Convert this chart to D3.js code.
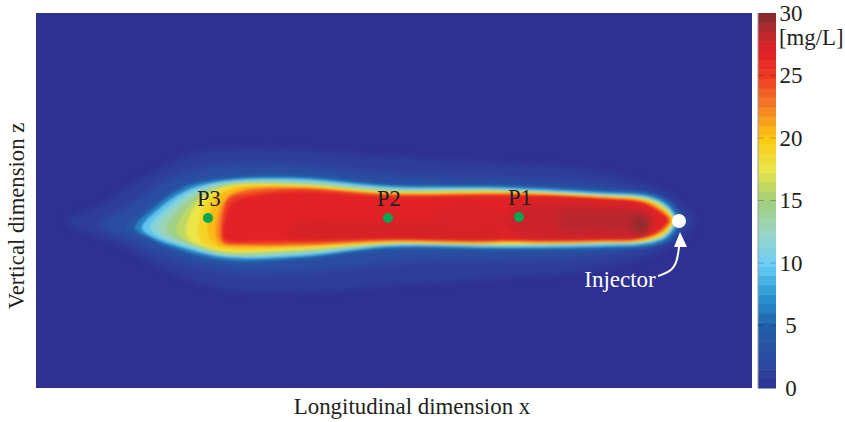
<!DOCTYPE html>
<html>
<head>
<meta charset="utf-8">
<script src="https://d3js.org/d3.v7.min.js"></script>
<style>
  html, body { margin: 0; padding: 0; background: #fff; }
  text { font-family: "Liberation Serif", "Times New Roman", serif; fill: #231f20; }
</style>
</head>
<body>
<svg id="viz" width="845" height="422"></svg>
<script>
// colour bar
const colorValues = [0, 2, 5, 7.5, 10, 12.5, 15, 17.5, 20, 22.5, 25, 27, 28.5, 30];
const colorStops = ["#2e3192", "#2b4a9f", "#1f5fa8", "#2a9ad4", "#6dcff6", "#9ad5c4", "#a0cf78", "#eae64a", "#fdc70f", "#f47f26", "#ee3a24", "#e01f26", "#b8292d", "#7a2a30"];
const colorTicks = [0, 5, 10, 15, 20, 25, 30];
const barBands = d3.range(0, 30, 0.75);
const unitLabel = "[mg/L]";

// concentration contours: level and outline [x, z]
const haloLevels = [1.0, 2.6];
const haloOuter = [[31,166],[64,183],[104,208],[154,233],[194,239],[264,238],[364,230],[464,225],[564,216],[634,193],[659,168],[636,143],[564,120],[464,110],[364,103],[264,96],[194,98],[134,116],[84,143]];
const haloInner = [[64,163],[94,183],[134,210],[184,223],[264,223],[364,213],[464,210],[564,203],[624,188],[649,168],[629,148],[564,133],[464,128],[364,126],[264,116],[194,116],[134,130],[94,148]];
const haloLines = [haloOuter, haloInner];

const contourLevels = [3.5, 6.5, 9.5, 11.5, 13, 14.5, 16, 17.5, 19, 20.5, 22, 23.5, 25, 26.8];
const contour35 = [[89,160],[114,183],[144,203],[189,213],[264,215],[354,205],[464,204],[564,199],[617,195],[636,186],[647,168],[636,148],[617,141],[564,138],[464,137],[354,137],[264,127],[189,124],[139,136],[109,150]];
const contour65 = [[99,160],[119,181],[149,201],[189,209],[264,211],[354,203],[464,202],[564,197],[615,193],[633,184],[643,168],[633,150],[615,143],[564,140],[464,139],[354,140],[264,130],[189,128],[139,140],[114,150]];
const contour95 = [[106,160],[124,180],[152,198],[189,207],[264,209],[354,201],[464,200],[564,195],[613,191],[631,182],[640,168],[631,152],[613,145],[564,142],[464,141],[354,142],[264,132],[189,131],[142,142],[119,150]];
const contour115 = [[114,160],[131,180],[156,197],[190,206],[264,207.5],[354,200],[464,199],[564,194],[613,190.5],[631,181.5],[639.5,168],[631,152.5],[613,145.5],[564,143],[464,141.5],[354,142.5],[264,133.5],[189,132],[147,142.5],[126,150]];
const contour13 = [[122,160],[138,180],[160,196],[192,205],[264,206],[354,199],[464,198.5],[564,193.5],[612,190],[630,181],[639,168],[630,153],[612,146],[564,144],[464,142],[354,143],[264,135],[189,133],[152,143],[134,150]];
const contour145 = [[130,159],[144,179],[164,195],[192,204],[264,205],[354,198],[464,198],[564,193],[611,189.5],[629,180.5],[638.5,168],[629,153.5],[611,146.5],[564,144.5],[464,143],[354,143.5],[264,136],[189,134],[158,142.5],[140,149]];
const contour16 = [[140,158],[150,178],[168,194],[192,203],[264,204],[354,197],[464,197],[564,192.5],[611,189],[629,180],[638,168],[629,154],[611,147],[564,145],[464,143.5],[354,144],[264,137],[189,135],[162,142],[148,148]];
const contour175 = [[150,156],[156,177],[170,193],[193,202],[264,203],[354,196],[464,196.5],[564,192],[610,188.5],[628,179.5],[637.5,168],[628,154.5],[610,147.5],[564,145.5],[464,144],[354,145],[264,138.5],[189,136.5],[166,142.5],[154,148]];
const contour19 = [[162,154],[165,176],[175,192],[194,201],[264,202],[354,195.5],[464,196],[564,192],[610,188],[628,179],[637,168],[628,155],[610,148],[564,146],[464,145],[354,145.5],[264,140],[189,138],[170,143],[164,148]];
const contour205 = [[172,153],[174,175],[182,191],[199,200],[264,201.5],[354,195],[464,195.5],[564,191.5],[609,187.5],[627,178.5],[636,168],[627,155.5],[609,148.5],[564,146],[464,145.5],[354,146],[264,141],[196,140],[180,143.5]];
const contour22 = [[180,152],[182,173],[190,190],[204,198],[264,201],[354,194.5],[464,195],[564,191],[608,187],[626,178],[635,168],[626,156],[608,149],[564,147],[464,146],[354,147],[264,142],[204,142],[186,144]];
const contour235 = [[184,151],[186,176],[192,190],[209,197],[264,200],[354,194],[464,194.5],[564,190.5],[607,186.5],[625,177.5],[634,168],[625,156.5],[607,149.5],[564,147],[464,146.5],[354,147.5],[264,143.5],[209,143],[188,144.5]];
const contour25 = [[186,150],[188,178],[194,190],[214,195],[264,199],[354,193],[464,194],[564,190],[606,186],[624,177],[633,168],[624,157],[606,150],[564,148],[464,147],[354,148],[264,145],[214,144],[190,145]];
const contour268 = [[188,150],[192,178],[199,187],[218,192],[264,196],[354,191],[464,192],[564,189],[604,185],[622,176],[631,168],[622,158],[604,151],[564,149],[464,149],[354,150],[264,148],[218,147],[195,147]];
const contourLines = [contour35, contour65, contour95, contour115, contour13, contour145, contour16, contour175, contour19, contour205, contour22, contour235, contour25, contour268];

// darker patches inside the core
const patchLevels = [27.4, 27.3, 27.7, 28.4, 29.3];
const patchBand = [[254,163],[354,165],[464,162],[464,152],[354,151],[254,153]];
const patchMid = [[400,176],[460,178],[470,165],[440,158],[400,162]];
const patchRight = [[484,183],[564,184],[609,178],[619,166],[604,152],[564,150],[484,152],[469,166]];
const patchInner = [[524,176],[564,178],[604,175],[614,163],[604,155],[564,157],[524,158]];
const patchNozzle = [[600,174],[612,170],[612,156],[600,154],[596,164]];
const patchLines = [patchBand, patchMid, patchRight, patchInner, patchNozzle];

// measuring points and injector
const pointNames = ["P1", "P2", "P3"];
const pointX = [483, 352, 172];
const pointZ = [171, 170, 170];
const injector = [643, 167];
const injectorArrow = [[622,112],[634,116],[641,125],[643,141]];
const arrowHead = [[644,156],[638,141],[651,141]];

const plotLeft = 36, plotTop = 13, plotWidth = 716, plotHeight = 375;
const barLeft = 758, barWidth = 18;

const x = d3.scaleLinear().domain([0, 716]).range([plotLeft, plotLeft + plotWidth]);
const z = d3.scaleLinear().domain([0, 375]).range([plotTop + plotHeight, plotTop]);
const c = d3.scaleLinear().domain([0, 30]).range([plotTop + plotHeight, plotTop]);
const color = d3.scaleLinear().domain(colorValues).range(colorStops).interpolate(d3.interpolateRgb);

const svg = d3.select("#viz");

const defs = svg.append("defs");
defs.append("clipPath").attr("id", "plotClip").append("rect")
  .attr("x", plotLeft).attr("y", plotTop).attr("width", plotWidth).attr("height", plotHeight);
const blur = defs.append("filter").attr("id", "soft")
  .attr("x", "-5%").attr("y", "-20%").attr("width", "110%").attr("height", "140%");
blur.append("feGaussianBlur").attr("stdDeviation", 0.8);
const blurWide = defs.append("filter").attr("id", "softer")
  .attr("x", "-5%").attr("y", "-20%").attr("width", "110%").attr("height", "140%");
blurWide.append("feGaussianBlur").attr("stdDeviation", 3);

// background of the field
svg.append("rect")
  .attr("x", plotLeft).attr("y", plotTop).attr("width", plotWidth).attr("height", plotHeight)
  .attr("fill", color(0));

const outline = d3.line()
  .x(d => x(d[0]))
  .y(d => z(d[1]))
  .curve(d3.curveCatmullRomClosed.alpha(0.5));

const field = svg.append("g").attr("clip-path", "url(#plotClip)");

field.append("g").attr("filter", "url(#softer)")
  .selectAll("path")
  .data(haloLines)
  .enter()
  .append("path")
  .attr("d", outline)
  .attr("fill", (d, i) => color(haloLevels[i]));

field.append("g").attr("filter", "url(#soft)")
  .selectAll("path")
  .data(contourLines)
  .enter()
  .append("path")
  .attr("d", outline)
  .attr("fill", (d, i) => color(contourLevels[i]));

field.append("g").attr("filter", "url(#softer)")
  .selectAll("path")
  .data(patchLines)
  .enter()
  .append("path")
  .attr("d", outline)
  .attr("fill", (d, i) => color(patchLevels[i]));

// colour bar
svg.append("g").selectAll("rect")
  .data(barBands)
  .enter()
  .append("rect")
  .attr("x", barLeft)
  .attr("width", barWidth)
  .attr("y", d => c(d + 0.75))
  .attr("height", d => c(d) - c(d + 0.75) + 0.5)
  .attr("fill", d => color(d + 0.375));

svg.append("rect")
  .attr("x", barLeft - 0.5).attr("y", plotTop).attr("width", 1).attr("height", plotHeight)
  .attr("fill", "#9a9aa8");

const colorAxis = d3.axisRight(c)
  .tickValues(colorTicks)
  .tickSize(0)
  .tickPadding(15);

const axisG = svg.append("g")
  .attr("transform", "translate(" + (barLeft + barWidth) + ",0)")
  .call(colorAxis);
axisG.select(".domain").remove();
axisG.selectAll("text")
  .attr("text-anchor", "middle")
  .style("font-size", "23px")
  .style("font-family", '"Liberation Serif", serif');

// little dashes inside the bar
svg.append("g").selectAll("line")
  .data(colorTicks.slice(1, -1))
  .enter()
  .append("line")
  .attr("x1", barLeft).attr("x2", barLeft + barWidth)
  .attr("y1", d => c(d)).attr("y2", d => c(d))
  .attr("stroke", d => d3.color(color(d)).darker(0.7))
  .attr("stroke-dasharray", "6 6");

svg.append("text")
  .attr("x", 779).attr("y", 45)
  .style("font-size", "22.8px")
  .text(unitLabel);

// axis titles
svg.append("text")
  .attr("x", 412).attr("y", 414)
  .attr("text-anchor", "middle")
  .style("font-size", "22.9px")
  .text("Longitudinal dimension x");

svg.append("text")
  .attr("transform", "translate(24,216) rotate(-90)")
  .attr("text-anchor", "middle")
  .style("font-size", "22.7px")
  .text("Vertical dimension z");

// measuring points
svg.append("g").selectAll("circle")
  .data(pointNames)
  .enter()
  .append("circle")
  .attr("cx", (d, i) => x(pointX[i]))
  .attr("cy", (d, i) => z(pointZ[i]))
  .attr("r", 5)
  .attr("fill", "#00a651");

svg.append("g").selectAll("text")
  .data(pointNames)
  .enter()
  .append("text")
  .attr("x", (d, i) => x(pointX[i]) + 1)
  .attr("y", (d, i) => z(pointZ[i]) - 12)
  .attr("text-anchor", "middle")
  .style("font-size", "22.5px")
  .text(d => d);

// injector
svg.append("circle")
  .attr("cx", x(injector[0]))
  .attr("cy", z(injector[1]))
  .attr("r", 7)
  .attr("fill", "#fff");

svg.append("path")
  .attr("d", d3.line().x(d => x(d[0])).y(d => z(d[1])).curve(d3.curveBasis)(injectorArrow))
  .attr("fill", "none")
  .attr("stroke", "#fff")
  .attr("stroke-width", 2);

svg.append("path")
  .attr("d", d3.line().x(d => x(d[0])).y(d => z(d[1])).curve(d3.curveLinearClosed)(arrowHead))
  .attr("fill", "#fff");

svg.append("text")
  .attr("x", 620).attr("y", 287)
  .attr("text-anchor", "middle")
  .style("font-size", "23px")
  .style("fill", "#fff")
  .text("Injector");
</script>
</body>
</html>
